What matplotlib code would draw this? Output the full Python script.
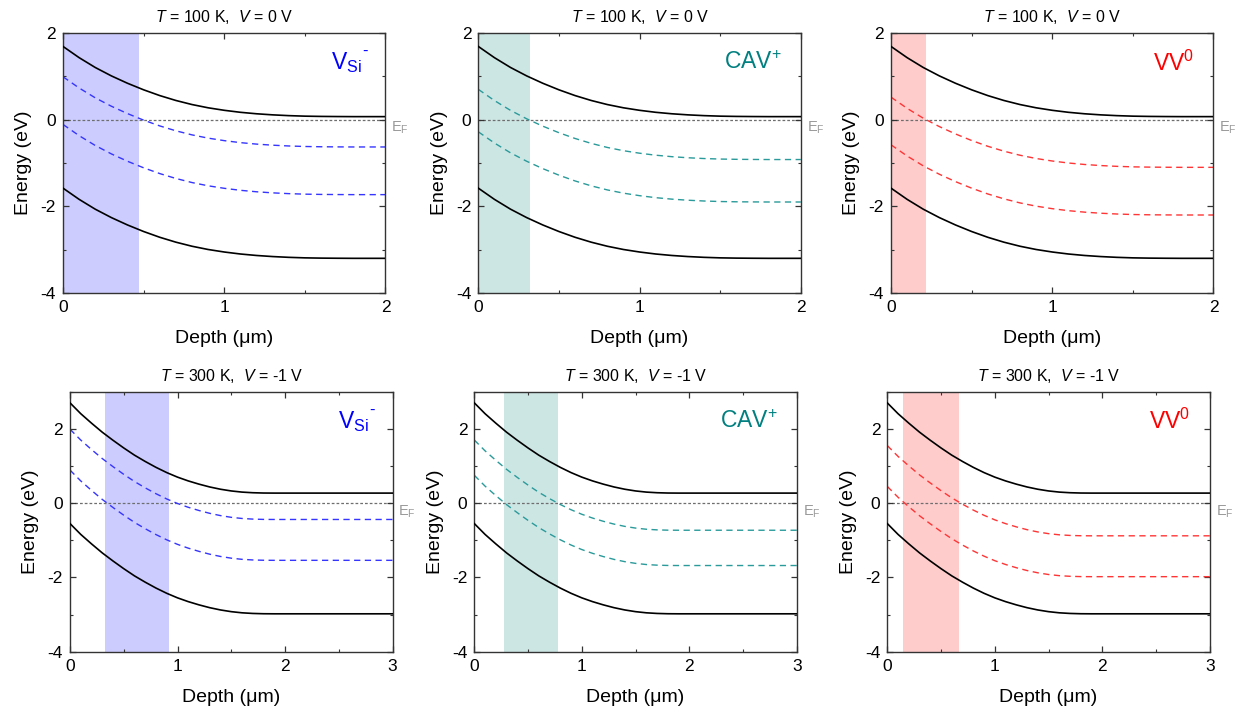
import matplotlib
matplotlib.use('Agg')
import numpy as np
import matplotlib.pyplot as plt
from matplotlib.ticker import MultipleLocator
from matplotlib.transforms import blended_transform_factory

plt.rcParams['font.family'] = ['Liberation Sans', 'DejaVu Sans']
plt.rcParams['mathtext.fontset'] = 'custom'
plt.rcParams['mathtext.rm'] = 'Liberation Sans'
plt.rcParams['mathtext.it'] = 'Liberation Sans:italic'
plt.rcParams['mathtext.bf'] = 'Liberation Sans:bold'
plt.rcParams['axes.unicode_minus'] = False

# Band bending below the surface (eV), sampled along depth (um)
depth_100K = [0.0, 0.1, 0.2, 0.3, 0.4, 0.5, 0.6, 0.7, 0.8, 0.9, 1.0,
              1.1, 1.2, 1.3, 1.4, 1.5, 1.6, 1.7, 1.8, 2.0]
bending_100K = [1.62, 1.361, 1.134, 0.940, 0.770, 0.619, 0.486, 0.373, 0.279, 0.204, 0.146,
                0.100, 0.066, 0.041, 0.023, 0.011, 0.005, 0.002, 0.0, 0.0]

depth_300K = [0.0, 0.1, 0.2, 0.3, 0.4, 0.5, 0.6, 0.7, 0.8, 0.9, 1.0,
              1.1, 1.2, 1.3, 1.4, 1.5, 1.6, 1.7, 1.8, 1.9, 3.0]
bending_300K = [2.43, 2.138, 1.883, 1.640, 1.422, 1.215, 1.021, 0.851, 0.693, 0.552, 0.430,
                0.328, 0.241, 0.165, 0.104, 0.058, 0.027, 0.010, 0.002, 0.0, 0.0]

# Bulk band edges relative to E_F (eV)
cb_bulk_100K, vb_bulk_100K = 0.07, -3.20
cb_bulk_300K, vb_bulk_300K = 0.27, -2.98

# Bulk defect levels relative to E_F (eV): V_Si-, CAV+, VV0
levels_100K = [[-0.63, -1.73], [-0.92, -1.90], [-1.10, -2.20]]
levels_300K = [[-0.44, -1.54], [-0.73, -1.68], [-0.88, -1.98]]

# Depth window where the defect charge state is stable (um)
spans_100K = [(0.0, 0.47), (0.0, 0.32), (0.0, 0.22)]
spans_300K = [(0.33, 0.92), (0.28, 0.78), (0.15, 0.67)]

defect_labels = [r'$\mathrm{V}_{\mathrm{Si}}$', r'CAV$^{+}$', r'VV$^{0}$']
label_right = [0.925, 0.94, 0.94]
defect_colors = ['#0000FF', '#008080', '#FF0000']
line_colors = ['#3535FF', '#2A9A9A', '#FF3535']
shade_colors = ['#CCCCFF', '#CCE6E4', '#FFCCCC']

titles = [r'$T$ = 100 K,  $V$ = 0 V', r'$T$ = 300 K,  $V$ = -1 V']

rows = [
    dict(depth=depth_100K, bend=bending_100K, cb=cb_bulk_100K, vb=vb_bulk_100K,
         levels=levels_100K, spans=spans_100K, xmax=2, ymin=-4, ymax=2, title=titles[0]),
    dict(depth=depth_300K, bend=bending_300K, cb=cb_bulk_300K, vb=vb_bulk_300K,
         levels=levels_300K, spans=spans_300K, xmax=3, ymin=-4, ymax=3, title=titles[1]),
]

fig = plt.figure(figsize=(12.4, 7.11), dpi=100)

W, H = 1240.0, 711.0
axes_px = [
    [(63, 33), (478.3, 33), (891, 33)],
    [(70, 391.7), (474.3, 391.7), (887.3, 391.7)],
]
aw, ah = 322.5, 260.0

for r, row in enumerate(rows):
    d = np.array(row['depth'])
    b = np.array(row['bend'])
    for c in range(3):
        x0, ytop = axes_px[r][c]
        ax = fig.add_axes([x0 / W, 1 - (ytop + ah) / H, aw / W, ah / H])

        lo, hi = row['spans'][c]
        ax.axvspan(lo, hi, color=shade_colors[c], lw=0, zorder=0)

        ax.axhline(0, color='#6E6E6E', lw=0.9, ls=(0, (2.2, 1.6)), zorder=1)

        ax.plot(d, row['cb'] + b, color='black', lw=1.2, zorder=3)
        ax.plot(d, row['vb'] + b, color='black', lw=1.2, zorder=3)
        for lev in row['levels'][c]:
            ax.plot(d, lev + b, color=line_colors[c], lw=1.0,
                    ls=(0, (4.5, 3.2)), zorder=2)

        ax.set_xlim(0, row['xmax'])
        ax.set_ylim(row['ymin'], row['ymax'])
        ax.xaxis.set_major_locator(MultipleLocator(1))
        ax.xaxis.set_minor_locator(MultipleLocator(0.5))
        ax.yaxis.set_major_locator(MultipleLocator(2))
        ax.yaxis.set_minor_locator(MultipleLocator(1))
        ax.tick_params(which='both', direction='in', top=True, right=True,
                       colors='#333333', labelcolor='black', labelsize=12.5)
        ax.tick_params(which='major', length=4.5, width=0.9, pad=5)
        ax.tick_params(which='minor', length=2.5, width=0.8)
        for s in ax.spines.values():
            s.set_color('#333333')
            s.set_linewidth(1.0)

        ax.set_xlabel('Depth (\u03bcm)', fontsize=14, labelpad=11)
        ax.set_ylabel('Energy (eV)', fontsize=14, labelpad=6)
        ax.set_title(row['title'], fontsize=11.5, pad=8)

        ax.text(label_right[c], 0.885, defect_labels[c],
                transform=ax.transAxes, ha='right', va='center',
                fontsize=16.5, color=defect_colors[c])
        if c == 0:
            # charge sign placed after the subscript
            ax.text(label_right[c] + 0.002, 0.93, '-', transform=ax.transAxes,
                    ha='left', va='center', fontsize=12, color=defect_colors[c])

        tr = blended_transform_factory(ax.transAxes, ax.transData)
        ax.text(1.018, 0, r'E$_{\mathrm{F}}$', transform=tr, ha='left', va='top',
                fontsize=10.5, color='#999999')

fig.savefig('out.png', dpi=100)
